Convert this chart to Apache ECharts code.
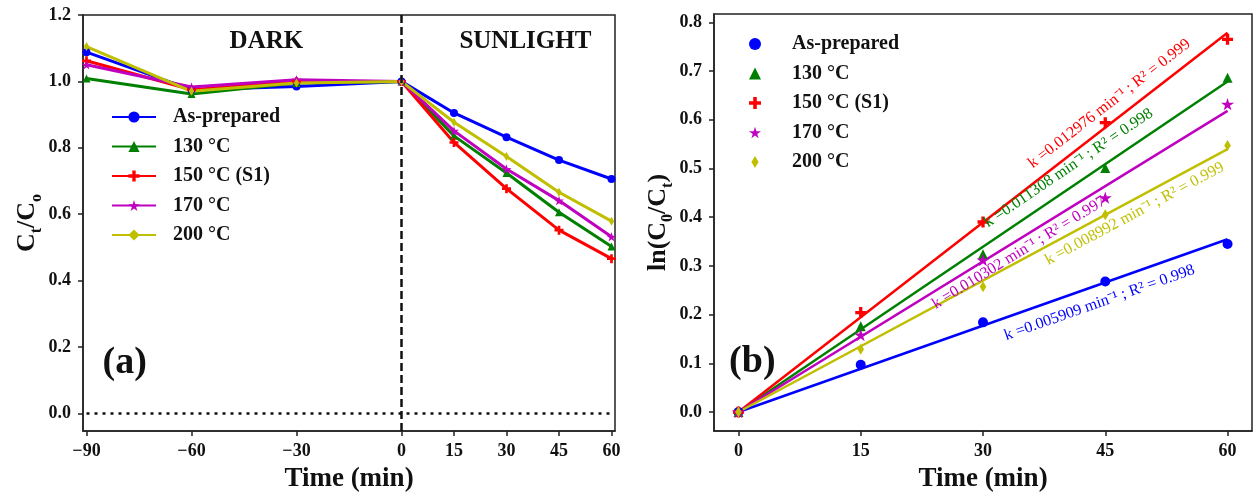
<!DOCTYPE html>
<html><head><meta charset="utf-8">
<script src="https://cdn.jsdelivr.net/npm/echarts@6/dist/echarts.min.js"></script>
<style>html,body{margin:0;padding:0;background:#fff}#c{width:1254px;height:492px}</style>
</head><body><div id="c"></div>
<script>
// ---------- data ----------
const sampleNames = ['As-prepared', '130 °C', '150 °C (S1)', '170 °C', '200 °C'];
const timeA = [-90, -60, -30, 0, 15, 30, 45, 60];
const ctAsPrepared = [1.088, 0.975, 0.985, 1.0, 0.905, 0.832, 0.763, 0.706];
const ct130 = [1.009, 0.962, 0.995, 1.0, 0.836, 0.724, 0.606, 0.503];
const ct150 = [1.062, 0.975, 1.000, 1.0, 0.816, 0.677, 0.552, 0.466];
const ct170 = [1.050, 0.983, 1.005, 1.0, 0.851, 0.736, 0.641, 0.532];
const ct200 = [1.105, 0.970, 0.995, 1.0, 0.877, 0.774, 0.666, 0.579];

const timeB = [0, 15, 30, 45, 60];
const lnAsPrepared = [0, 0.097, 0.184, 0.268, 0.345];
const ln130 = [0, 0.176, 0.324, 0.501, 0.686];
const ln150 = [0, 0.204, 0.390, 0.594, 0.765];
const ln170 = [0, 0.158, 0.312, 0.440, 0.632];
const ln200 = [0, 0.129, 0.257, 0.405, 0.547];
const rateK = ['0.005909', '0.011308', '0.012976', '0.010302', '0.008992'];
const rSquared = ['0.998', '0.998', '0.999', '0.997', '0.999'];
const fitRange = [0, 60];

const ticksAx = [-90, -60, -30, 0, 15, 30, 45, 60];
const ticksAy = [0, 0.2, 0.4, 0.6, 0.8, 1.0, 1.2];
const ticksBx = [0, 15, 30, 45, 60];
const ticksBy = [0, 0.1, 0.2, 0.3, 0.4, 0.5, 0.6, 0.7, 0.8];
const panelLabels = ['DARK', 'SUNLIGHT', '(a)', '(b)'];

// ---------- styling / layout ----------
const colors = ['#0000FF', '#008000', '#FF0000', '#BF00BF', '#BFBF00'];
const FF = '"Liberation Serif", "Times New Roman", serif';
const plusPath = 'path://M3.5,0H6.5V3.5H10V6.5H6.5V10H3.5V6.5H0V3.5H3.5Z';
const starPath = 'path://M50,0L61,35L98,35L68,57L79,91L50,70L21,91L32,57L2,35L39,35Z';
const dPath = 'path://M3,0L6,5L3,10L0,5Z';
const symbols = ['circle', 'triangle', plusPath, starPath, dPath];
const symSizeA = [8, 8, 9, 10, 9];
const symSizeB = [10, 10, 11, 13, 11];
const ctSeries = [ctAsPrepared, ct130, ct150, ct170, ct200];
const lnSeries = [lnAsPrepared, ln130, ln150, ln170, ln200];
// annotation anchors (data coords on panel b)
const annotAnchor = [[44.3, 0.224], [40.5, 0.501], [45.5, 0.633], [34.4, 0.327], [48.6, 0.407]];
const labelAnchorA = [[-38.6, 1.12], [35.4, 1.12], [-79.1, 0.15]];
const labelAnchorB = [[1.7, 0.103]];

const axisColor = '#222';
const tickLabel = {fontFamily: FF, fontWeight: 'bold', fontSize: 18, color: '#111'};
const nameStyle = {fontFamily: FF, fontWeight: 'bold', fontSize: 27, color: '#111'};
const richName = {
  n: {fontFamily: FF, fontWeight: 'bold', fontSize: 26, color: '#111', lineHeight: 34, verticalAlign: 'middle'},
  s: {fontFamily: FF, fontWeight: 'bold', fontSize: 16, color: '#111', lineHeight: 34, verticalAlign: 'bottom'}
};

function mkX(idx, min, max, ticks) {
  return {
    gridIndex: idx, type: 'value', min: min, max: max,
    axisLine: {show: true, onZero: false, lineStyle: {color: axisColor, width: 1.5}},
    axisTick: {show: true, customValues: ticks, length: 5, lineStyle: {color: axisColor, width: 1.5}},
    axisLabel: Object.assign({customValues: ticks, margin: 11,
      formatter: v => String(v).replace('-', '\u2212')}, tickLabel),
    splitLine: {show: false},
    name: 'Time (min)', nameLocation: 'middle', nameGap: 35, nameTextStyle: nameStyle
  };
}
function mkY(idx, min, max, ticks, name, gap) {
  return {
    gridIndex: idx, type: 'value', min: min, max: max,
    axisLine: {show: true, onZero: false, lineStyle: {color: axisColor, width: 1.5}},
    axisTick: {show: true, customValues: ticks, length: 5, lineStyle: {color: axisColor, width: 1.5}},
    axisLabel: Object.assign({customValues: ticks, margin: 12, formatter: v => v.toFixed(1)}, tickLabel),
    splitLine: {show: false},
    name: name, nameLocation: 'middle', nameGap: gap, nameRotate: 90,
    nameTextStyle: {rich: richName}
  };
}

const series = [];
// helper series for reference lines (panel a)
series.push({
  type: 'line', xAxisIndex: 0, yAxisIndex: 0, data: [], silent: true, z: 1,
  markLine: {
    silent: true, symbol: 'none', label: {show: false}, animation: false,
    data: [
      [{coord: [0, -0.053], lineStyle: {type: [8, 4], width: 2.5, color: '#111'}}, {coord: [0, 1.2]}],
      [{coord: [-90, 0], lineStyle: {type: [3, 5], width: 2.5, color: '#111'}}, {coord: [60, 0]}]
    ]
  }
});
sampleNames.forEach((nm, i) => {
  series.push({
    name: nm, type: 'line', xAxisIndex: 0, yAxisIndex: 0, z: 3,
    data: timeA.map((t, j) => [t, ctSeries[i][j]]),
    symbol: symbols[i], symbolSize: symSizeA[i], symbolKeepAspect: true,
    itemStyle: {color: colors[i]}, lineStyle: {color: colors[i], width: 3}
  });
});
sampleNames.forEach((nm, i) => {
  const k = parseFloat(rateK[i]);
  series.push({
    name: 'fit ' + nm, type: 'line', xAxisIndex: 1, yAxisIndex: 1, z: 2,
    data: fitRange.map(t => [t, k * t]), symbol: 'none',
    lineStyle: {color: colors[i], width: 2.5}
  });
});
sampleNames.forEach((nm, i) => {
  series.push({
    name: nm, type: 'scatter', xAxisIndex: 1, yAxisIndex: 1, z: 3,
    data: timeB.map((t, j) => [t, lnSeries[i][j]]),
    symbol: symbols[i], symbolSize: symSizeB[i], symbolKeepAspect: true,
    itemStyle: {color: colors[i], opacity: 1}
  });
});

const legendText = {fontFamily: FF, fontWeight: 'bold', fontSize: 20, color: '#111', padding: [0, 0, 0, 12]};
const option = {
  animation: false,
  backgroundColor: '#fff',
  grid: [
    {left: 83, top: 15, width: 532, height: 416, outerBoundsMode: 'none', containLabel: false,
     show: true, borderColor: axisColor, borderWidth: 1.5, backgroundColor: 'transparent'},
    {left: 714, top: 14, width: 538, height: 417, outerBoundsMode: 'none', containLabel: false,
     show: true, borderColor: axisColor, borderWidth: 1.5, backgroundColor: 'transparent'}
  ],
  xAxis: [mkX(0, -91, 61, ticksAx), mkX(1, -3, 63, ticksBx)],
  yAxis: [
    mkY(0, -0.053, 1.2, ticksAy, '{n|C}{s|t}{n|/C}{s|o}', 30),
    mkY(1, -0.039, 0.817, ticksBy, '{n|ln(C}{s|0}{n|/C}{s|t}{n|)}', 36)
  ],
  legend: [
    {
      orient: 'vertical', left: 106, top: 102, itemWidth: 44, itemHeight: 14, itemGap: 9.5,
      data: sampleNames, textStyle: legendText, selectedMode: false
    },
    {
      orient: 'vertical', left: 744, top: 29, itemWidth: 12, itemHeight: 12, itemGap: 9.5,
      data: sampleNames.map((nm, i) => ({name: nm, icon: symbols[i], itemStyle: {color: colors[i]}})),
      textStyle: Object.assign({}, legendText, {padding: [0, 0, 0, 26]}), selectedMode: false
    }
  ],
  series: series
};
const chart = echarts.init(document.getElementById('c'), null, {renderer: 'canvas'});
chart.setOption(option);

// text annotations placed through the axes' coordinate conversion
const gA = {xAxisIndex: 0, yAxisIndex: 0};
const gB = {xAxisIndex: 1, yAxisIndex: 1};
const graphics = [];
function addText(finder, coord, txt, style, rotDeg) {
  const p = chart.convertToPixel(finder, coord);
  graphics.push({
    type: 'text', x: p[0], y: p[1], rotation: (rotDeg || 0) * Math.PI / 180, z: 100, silent: true,
    style: Object.assign({text: txt, align: 'center', verticalAlign: 'middle'}, style)
  });
}
const bold = size => ({fontFamily: FF, fontWeight: 'bold', fontSize: size, fill: '#111'});
addText(gA, labelAnchorA[0], panelLabels[0], bold(25));
addText(gA, labelAnchorA[1], panelLabels[1], bold(25));
addText(gA, labelAnchorA[2], panelLabels[2], bold(38));
addText(gB, labelAnchorB[0], panelLabels[3], bold(38));
sampleNames.forEach((nm, i) => {
  const k = parseFloat(rateK[i]);
  const p0 = chart.convertToPixel(gB, [fitRange[0], k * fitRange[0]]);
  const p1 = chart.convertToPixel(gB, [fitRange[1], k * fitRange[1]]);
  const ang = Math.atan2(p0[1] - p1[1], p1[0] - p0[0]) * 180 / Math.PI;
  addText(gB, annotAnchor[i], 'k =' + rateK[i] + ' min\u207B\u00B9 ; R\u00B2 = ' + rSquared[i],
    {fontFamily: FF, fontSize: 16, fill: colors[i]}, ang);
});
chart.setOption({graphic: graphics});
</script>
</body></html>
